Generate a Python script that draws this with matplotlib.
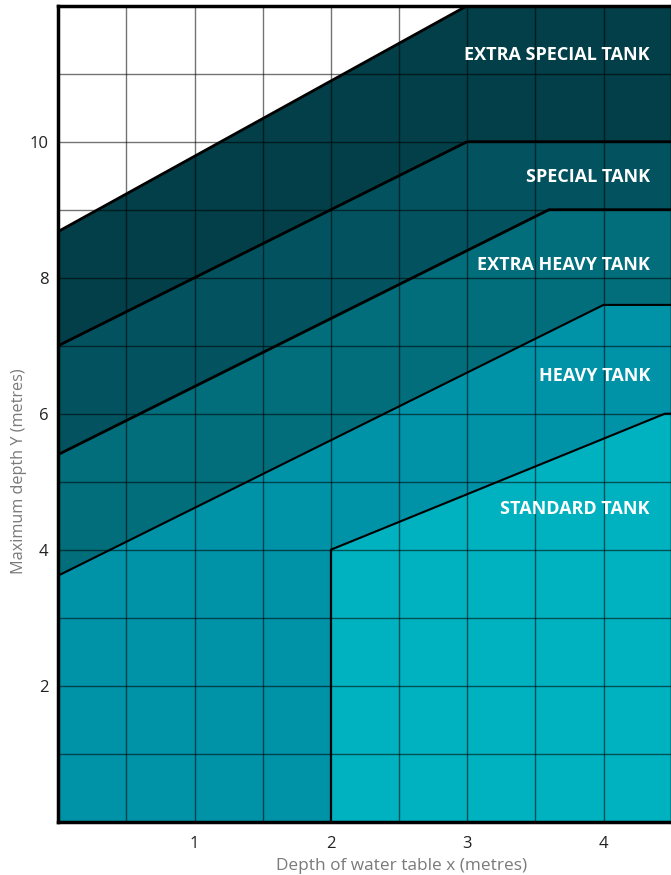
import matplotlib
matplotlib.use("Agg")
import matplotlib.pyplot as plt
import numpy as np

plt.rcParams['font.family'] = ['Open Sans', 'DejaVu Sans']

# Boundary polylines (upper edge of each zone)
extra_special_x = [0, 3, 4.5]
extra_special_y = [8.68, 12, 12]
special_x = [0, 3, 4.5]
special_y = [7.0, 10, 10]
extra_heavy_x = [0, 3.6, 4.5]
extra_heavy_y = [5.4, 9, 9]
heavy_x = [0, 4, 4.5]
heavy_y = [3.62, 7.6, 7.6]
standard_x = [2, 2, 4.45, 4.5]
standard_y = [0, 4, 6, 6]

labels = ["EXTRA SPECIAL TANK", "SPECIAL TANK", "EXTRA HEAVY TANK", "HEAVY TANK", "STANDARD TANK"]
label_y = [11.27, 9.48, 8.19, 6.55, 4.6]
colors = ["#023f48", "#02525f", "#026e7c", "#0093a8", "#00b2c0"]

xticks = [1, 2, 3, 4]
yticks = [2, 4, 6, 8, 10]
x_grid = np.arange(0.5, 4.5, 0.5)
y_grid = np.arange(1, 12, 1)

fig = plt.figure(figsize=(6.71, 8.75), dpi=100)
ax = fig.add_axes([58.3 / 671, 53.3 / 875, 613.4 / 671, 816 / 875])
ax.set_xlim(0, 4.5)
ax.set_ylim(0, 12)

def poly(top_x, top_y, bot_x, bot_y):
    xs = list(top_x) + list(bot_x)[::-1]
    ys = list(top_y) + list(bot_y)[::-1]
    return xs, ys

# bottom of heavy zone = standard boundary extended to origin
heavy_bot_x = [0] + standard_x
heavy_bot_y = [0] + standard_y

zones = [
    poly(extra_special_x, extra_special_y, special_x, special_y),
    poly(special_x, special_y, extra_heavy_x, extra_heavy_y),
    poly(extra_heavy_x, extra_heavy_y, heavy_x, heavy_y),
    poly(heavy_x, heavy_y, heavy_bot_x, heavy_bot_y),
    (standard_x + [4.5], standard_y + [0]),
]
for (xs, ys), c in zip(zones, colors):
    ax.fill(xs, ys, color=c, lw=0, zorder=1)

for gx in x_grid:
    ax.axvline(gx, color="#000000", alpha=0.55, lw=1.0, zorder=2)
for gy in y_grid:
    ax.axhline(gy, color="#000000", alpha=0.55, lw=1.0, zorder=2)

ax.plot(extra_special_x, extra_special_y, color="black", lw=2.0, zorder=3)
ax.plot(special_x, special_y, color="black", lw=2.0, zorder=3)
ax.plot(extra_heavy_x, extra_heavy_y, color="black", lw=2.0, zorder=3)
ax.plot(heavy_x, heavy_y, color="black", lw=1.5, zorder=3)
ax.plot(standard_x, standard_y, color="black", lw=1.5, zorder=3)

for t, y in zip(labels, label_y):
    ax.text(4.34, y, t, color="white", fontsize=13, fontweight="bold",
            ha="right", va="center", zorder=4)

for s in ax.spines.values():
    s.set_linewidth(2.5)
    s.set_color("black")
    s.set_zorder(5)

ax.set_xticks(xticks)
ax.set_yticks(yticks)
ax.set_xticklabels([str(v) for v in xticks])
ax.set_yticklabels([str(v) for v in yticks])
ax.tick_params(length=0, labelsize=12, labelcolor="#222222")
ax.tick_params(axis='x', pad=10)
ax.tick_params(axis='y', pad=7)

ax.set_xlabel("Depth of water table x (metres)", color="#7a7a7a", fontsize=12.4)
ax.set_ylabel("Maximum depth Y (metres)", color="#7a7a7a", fontsize=11.7)
ax.xaxis.set_label_coords(0.559, -0.0445)
ax.yaxis.set_label_coords(-0.051, 0.430)

fig.savefig("out.png", dpi=100)
